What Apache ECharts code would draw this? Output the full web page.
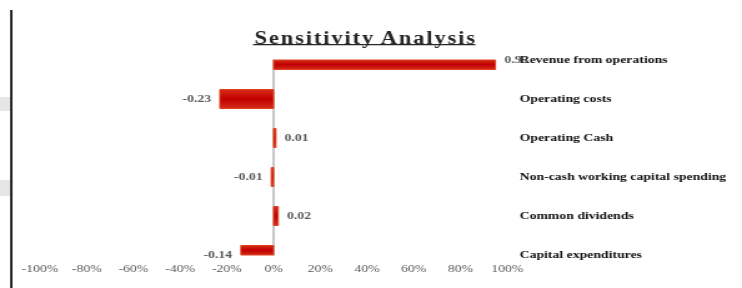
<!DOCTYPE html>
<html>
<head>
<meta charset="utf-8">
<script src="https://cdn.jsdelivr.net/npm/echarts@6/dist/echarts.min.js"></script>
<style>
  html, body { margin: 0; padding: 0; background: #fff; overflow: hidden; }
  /* the original picture is stretched horizontally, so we draw narrower and stretch too */
  #main { width: 594px; height: 288px; transform: scaleX(1.2492); transform-origin: 0 0; }
</style>
</head>
<body>
<div id="main"></div>
<script>
var categories = ['Revenue from operations', 'Operating costs', 'Operating Cash',
                  'Non-cash working capital spending', 'Common dividends', 'Capital expenditures'];
var values = [0.95, -0.23, 0.01, -0.01, 0.02, -0.14];
var titleText = 'Sensitivity Analysis';

// letter-spaced heading
var spaced = titleText.split(' ').map(function (w) {
    return w.split('').join('\u200A');
}).join(' \u200A');

var serif = '"Liberation Serif", "DejaVu Serif", serif';
var barHeight = 19;

var barFill = new echarts.graphic.LinearGradient(0, 0, 0, 1, [
    { offset: 0, color: '#d8301a' },
    { offset: 0.5, color: '#c00000' },
    { offset: 1, color: '#d8301a' }
]);

// bars are cut at the plot edge (rows sit on the edges), labels are not
function renderBar(params, api) {
    var v = api.value(0);
    var idx = api.value(1);
    var p0 = api.coord([0, idx]);
    var p1 = api.coord([v, idx]);
    var cs = params.coordSys;
    var rect = echarts.graphic.clipRectByRect({
        x: Math.min(p0[0], p1[0]),
        y: p0[1] - barHeight / 2,
        width: Math.abs(p1[0] - p0[0]),
        height: barHeight
    }, { x: cs.x, y: cs.y, width: cs.width, height: cs.height });
    var neg = v < 0;
    return {
        type: 'group',
        children: [
            {
                type: 'rect',
                shape: rect,
                style: { fill: barFill, stroke: '#e0401e', lineWidth: 1 }
            },
            {
                type: 'text',
                x: p1[0] + (neg ? -7 : 7),
                y: p1[1],
                style: {
                    text: String(v),
                    fill: '#595959',
                    font: 'bold 11px ' + serif,
                    align: neg ? 'right' : 'left',
                    verticalAlign: 'middle'
                }
            }
        ]
    };
}

var myChart = echarts.init(document.getElementById('main'));

var option = {
    animation: false,
    backgroundColor: '#fff',
    title: {
        text: spaced,
        left: 287,
        top: 25,
        textAlign: 'center',
        textStyle: { fontFamily: serif, fontWeight: 'bold', fontSize: 18, color: '#262626' }
    },
    graphic: [
        { type: 'rect', z: 100, shape: { x: 0, y: 97, width: 8, height: 14 }, style: { fill: '#e6e6e6' } },
        { type: 'rect', z: 100, shape: { x: 0, y: 180, width: 8, height: 16 }, style: { fill: '#e6e6e6' } },
        { type: 'rect', z: 100, shape: { x: 8.2, y: 10, width: 1.7, height: 278 }, style: { fill: '#000' } },
        { type: 'rect', z: 100, shape: { x: 202.5, y: 44, width: 178, height: 1.3 }, style: { fill: '#262626' } }
    ],
    grid: { left: 32, right: 188, top: 60, bottom: 33 },
    xAxis: {
        type: 'value',
        min: -1,
        max: 1,
        interval: 0.2,
        splitLine: { show: false },
        axisLine: { show: false },
        axisTick: { show: false },
        axisLabel: {
            margin: 9,
            fontFamily: serif,
            fontSize: 11,
            color: '#595959',
            formatter: function (v) { return Math.round(v * 100) + '%'; }
        }
    },
    yAxis: [
        {
            type: 'category',
            data: categories,
            inverse: true,
            boundaryGap: false,
            axisLine: { show: true, onZero: true, lineStyle: { color: '#bfbfbf', width: 1.7 } },
            axisTick: { show: false },
            axisLabel: { show: false }
        },
        {
            type: 'category',
            data: categories,
            inverse: true,
            boundaryGap: false,
            position: 'right',
            offset: 2,
            axisLine: { show: false },
            axisTick: { show: false },
            axisLabel: {
                margin: 8,
                align: 'left',
                fontFamily: serif,
                fontWeight: 'bold',
                fontSize: 11,
                color: '#111'
            }
        }
    ],
    series: [
        {
            type: 'custom',
            yAxisIndex: 0,
            renderItem: renderBar,
            encode: { x: 0, y: 1 },
            data: values.map(function (v, i) { return [v, i]; }),
            z: 3
        }
    ]
};

myChart.setOption(option);
</script>
</body>
</html>
